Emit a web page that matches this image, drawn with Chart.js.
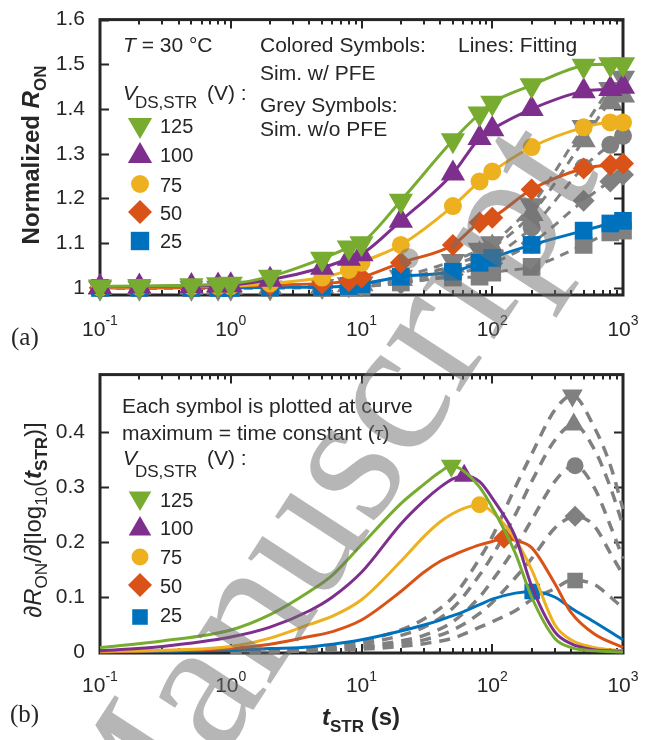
<!DOCTYPE html>
<html>
<head>
<meta charset="utf-8">
<script src="https://cdn.jsdelivr.net/npm/chart.js@4.4.0/dist/chart.umd.min.js"></script>
<style>
  html, body { margin: 0; padding: 0; background: #fff; }
  #wrap { position: relative; width: 658px; height: 740px; overflow: hidden; background: #fff; }
  #cTop { position: absolute; left: 0; top: 0; }
  #cBot { position: absolute; left: 0; top: 355px; }
  #mark { position: absolute; left: 0; top: 0; pointer-events: none; }
</style>
</head>
<body>
<div id="wrap">
  <canvas id="cTop" width="658" height="355"></canvas>
  <canvas id="cBot" width="658" height="385"></canvas>
  <canvas id="mark" width="658" height="740"></canvas>
</div>
<script>
// ---- data (a): normalized R_ON vs stress time ----
const tStress = [0.1, 0.2, 0.5, 0.8, 1, 2, 5, 8, 10, 20, 50, 80, 100, 200, 500, 800, 1000];
// colored symbols: sim. with PFE
const ron125 = [1.003, 1.004, 1.006, 1.008, 1.009, 1.025, 1.065, 1.09, 1.1, 1.195, 1.33, 1.39, 1.414, 1.453, 1.497, 1.5, 1.5];
const ron100 = [1.002, 1.003, 1.004, 1.005, 1.006, 1.018, 1.045, 1.065, 1.075, 1.15, 1.256, 1.335, 1.355, 1.4, 1.44, 1.445, 1.45];
const ron75  = [1.001, 1.002, 1.003, 1.004, 1.004, 1.01, 1.023, 1.04, 1.056, 1.096, 1.183, 1.238, 1.26, 1.315, 1.359, 1.37, 1.37];
const ron50  = [1.0, 1.0, 1.001, 1.002, 1.003, 1.006, 1.01, 1.015, 1.023, 1.056, 1.096, 1.146, 1.157, 1.22, 1.267, 1.275, 1.278];
const ron25  = [1.0, 1.0, 1.0, 1.0, 1.0, 1.001, 1.002, 1.004, 1.008, 1.025, 1.036, 1.056, 1.067, 1.096, 1.128, 1.144, 1.15];
// grey symbols: sim. without PFE
const ronGrey125 = [1, 1, 1, 1, 1, 1.001, 1.004, 1.008, 1.01, 1.025, 1.06, 1.085, 1.1, 1.185, 1.36, 1.445, 1.47];
const ronGrey100 = [1, 1, 1, 1, 1, 1.001, 1.003, 1.006, 1.008, 1.02, 1.05, 1.075, 1.09, 1.165, 1.33, 1.415, 1.43];
const ronGrey75  = [1, 1, 1, 1, 1, 1, 1.002, 1.004, 1.006, 1.015, 1.04, 1.06, 1.07, 1.135, 1.27, 1.32, 1.34];
const ronGrey50  = [1, 1, 1, 1, 1, 1, 1.001, 1.003, 1.004, 1.01, 1.03, 1.045, 1.055, 1.1, 1.195, 1.238, 1.253];
const ronGrey25  = [1, 1, 1, 1, 1, 1, 1, 1.001, 1.002, 1.012, 1.023, 1.025, 1.034, 1.047, 1.096, 1.124, 1.128];
const yTicksTop = [1, 1.1, 1.2, 1.3, 1.4, 1.5, 1.6];

// ---- data (b): dR_ON / d[log10(t)] ----
const tDeriv = [0.1, 0.3, 1, 2, 4, 6, 10, 20, 30, 40, 50, 60, 80, 100, 150, 200, 300, 400, 600, 1000];
const der125 = [0.008, 0.02, 0.04, 0.068, 0.11, 0.14, 0.195, 0.27, 0.305, 0.328, 0.339, 0.33, 0.3, 0.263, 0.18, 0.1, 0.025, 0.008, 0.002, 0];
const der100 = [0.002, 0.01, 0.027, 0.045, 0.075, 0.1, 0.145, 0.233, 0.275, 0.3, 0.315, 0.321, 0.31, 0.28, 0.21, 0.12, 0.037, 0.015, 0.004, 0.001];
const der75  = [0.001, 0.003, 0.01, 0.025, 0.05, 0.065, 0.095, 0.165, 0.21, 0.237, 0.252, 0.261, 0.268, 0.255, 0.205, 0.15, 0.05, 0.022, 0.008, 0.002];
const der50  = [0, 0.002, 0.006, 0.014, 0.028, 0.037, 0.058, 0.11, 0.145, 0.165, 0.176, 0.184, 0.195, 0.201, 0.203, 0.19, 0.125, 0.072, 0.033, 0.008];
const der25  = [0, 0.001, 0.003, 0.006, 0.009, 0.014, 0.022, 0.038, 0.049, 0.058, 0.066, 0.073, 0.086, 0.096, 0.107, 0.11, 0.1, 0.08, 0.055, 0.022];
const tauPFE  = [48.6, 61, 80, 123, 202];
const peakPFE = [0.339, 0.321, 0.268, 0.207, 0.11];

const tDerivGrey = [1, 3, 10, 20, 30, 50, 80, 100, 150, 200, 300, 400, 600, 800, 1000];
const derGrey125 = [0, 0.002, 0.02, 0.04, 0.06, 0.1, 0.17, 0.21, 0.3, 0.36, 0.44, 0.467, 0.41, 0.34, 0.26];
const derGrey100 = [0, 0.002, 0.015, 0.03, 0.045, 0.08, 0.14, 0.175, 0.25, 0.31, 0.385, 0.412, 0.37, 0.3, 0.23];
const derGrey75  = [0, 0.001, 0.01, 0.02, 0.03, 0.055, 0.1, 0.13, 0.19, 0.24, 0.31, 0.338, 0.3, 0.23, 0.17];
const derGrey50  = [0, 0.001, 0.008, 0.015, 0.022, 0.04, 0.07, 0.09, 0.135, 0.17, 0.225, 0.246, 0.23, 0.18, 0.14];
const derGrey25  = [0, 0.001, 0.005, 0.01, 0.015, 0.025, 0.045, 0.055, 0.075, 0.095, 0.115, 0.13, 0.123, 0.1, 0.08];
const tauNoPFE  = [410, 420, 430, 430, 430];
const peakNoPFE = [0.467, 0.414, 0.339, 0.247, 0.13];
const yTicksBot = [0, 0.1, 0.2, 0.3, 0.4];

const xTickExps = [-1, 0, 1, 2, 3];
const vLabels = ['125', '100', '75', '50', '25'];

// ---- styles ----
const FONT = '"Liberation Sans", Arial, Helvetica, sans-serif';
const SERIF = '"Liberation Serif", "Times New Roman", serif';
const INK = '#262626';
const GREY = '#808080';
const colors = ['#77AC30', '#7E2F8E', '#EDB120', '#D95319', '#0072BD'];
const shapes = [
  { style: 'triangle', rot: 180 },
  { style: 'triangle', rot: 0 },
  { style: 'circle', rot: 0 },
  { style: 'rectRot', rot: 0 },
  { style: 'rect', rot: 0 }
];
const topR = [14, 14, 9, 11, 12.5];
const botR = [12, 12, 8.5, 10.5, 11];

const ronPFE = [ron125, ron100, ron75, ron50, ron25];
const ronNoPFE = [ronGrey125, ronGrey100, ronGrey75, ronGrey50, ronGrey25];
const derPFE = [der125, der100, der75, der50, der25];
const derNoPFE = [derGrey125, derGrey100, derGrey75, derGrey50, derGrey25];

// text with sub/superscripts
function rich(ctx, parts, x, y, align) {
  let w = 0;
  parts.forEach(p => { ctx.font = p.font; p.w = ctx.measureText(p.text).width; w += p.w; });
  let cx = align === 'center' ? x - w / 2 : x;
  ctx.textAlign = 'left';
  ctx.textBaseline = 'alphabetic';
  parts.forEach(p => { ctx.font = p.font; ctx.fillText(p.text, cx, y + (p.dy || 0)); cx += p.w; });
}
const f = (size, style) => `${style || ''} ${size}px ${FONT}`;

function drawLogLabels(chart, baseline) {
  const { ctx, scales: { x } } = chart;
  ctx.fillStyle = INK;
  xTickExps.forEach(e => {
    const px = x.getPixelForValue(Math.pow(10, e));
    rich(ctx, [{ text: '10', font: f(21) }, { text: String(e), font: f(14), dy: -11 }], px, baseline, 'center');
  });
}

function drawLegend(ctx, mx, my, radii, tx, ty) {
  shapes.forEach((s, i) => {
    ctx.fillStyle = colors[i];
    ctx.strokeStyle = colors[i];
    Chart.helpers.drawPoint(ctx, { pointStyle: s.style, rotation: s.rot, radius: radii[i], borderWidth: 0 }, mx, my[i]);
    ctx.fillStyle = INK;
    ctx.font = f(20);
    ctx.textAlign = 'left';
    ctx.fillText(vLabels[i], tx, ty[i]);
  });
}

// MATLAB-like box with inward ticks
const boxAxes = {
  id: 'boxAxes',
  beforeDatasetsDraw(chart) {
    const { ctx, chartArea: a, scales: { x, y } } = chart;
    ctx.save();
    ctx.strokeStyle = INK;
    ctx.lineWidth = 2;
    ctx.beginPath();
    y.ticks.forEach(t => {
      const py = Math.round(y.getPixelForValue(t.value)) + 0.5;
      ctx.moveTo(a.left, py); ctx.lineTo(a.left + 9, py);
      ctx.moveTo(a.right, py); ctx.lineTo(a.right - 9, py);
    });
    for (let e = -1; e <= 3; e++) {
      for (let k = 1; k <= (e === 3 ? 1 : 9); k++) {
        const px = Math.round(x.getPixelForValue(k * Math.pow(10, e)));
        const len = k === 1 ? 9 : 5;
        ctx.moveTo(px, a.bottom); ctx.lineTo(px, a.bottom - len);
        ctx.moveTo(px, a.top); ctx.lineTo(px, a.top + len);
      }
    }
    ctx.stroke();
    ctx.lineWidth = 3;
    ctx.strokeRect(a.left, a.top, a.width, a.height);
    ctx.restore();
  }
};

const decorTop = {
  id: 'decorTop',
  afterDraw(chart) {
    const ctx = chart.ctx;
    ctx.save();
    drawLogLabels(chart, 336);
    ctx.fillStyle = INK;
    rich(ctx, [{ text: 'T', font: f(21, 'italic') }, { text: ' = 30 \u00B0C', font: f(21) }], 123, 52);
    rich(ctx, [{ text: 'Colored Symbols:', font: f(21) }], 260, 52);
    rich(ctx, [{ text: 'Sim. w/ PFE', font: f(21) }], 260, 80);
    rich(ctx, [{ text: 'Grey Symbols:', font: f(21) }], 260, 112);
    rich(ctx, [{ text: 'Sim. w/o PFE', font: f(21) }], 260, 136);
    rich(ctx, [{ text: 'Lines: Fitting', font: f(21) }], 458, 52);
    rich(ctx, [{ text: 'V', font: f(21, 'italic') }], 123, 100);
    rich(ctx, [{ text: 'DS,STR', font: f(17) }], 135, 108);
    rich(ctx, [{ text: '(V) :', font: f(21) }], 207, 100);
    drawLegend(ctx, 140, [125, 156, 184, 212, 241], [14, 14, 9, 12, 13], 160, [133, 162, 192, 220, 248]);
    // y title
    ctx.fillStyle = INK;
    ctx.translate(39, 155);
    ctx.rotate(-Math.PI / 2);
    rich(ctx, [
      { text: 'Normalized ', font: f(24, 'bold') },
      { text: 'R', font: f(24, 'bold italic') },
      { text: 'ON', font: f(17, 'bold'), dy: 7 }
    ], 0, 0, 'center');
    ctx.setTransform(1, 0, 0, 1, 0, 0);
    ctx.font = `25px ${SERIF}`;
    ctx.fillText('(a)', 11, 345);
    ctx.restore();
  }
};

const decorBot = {
  id: 'decorBot',
  afterDraw(chart) {
    const ctx = chart.ctx;
    const oy = 355;
    ctx.save();
    drawLogLabels(chart, 692 - oy);
    ctx.fillStyle = INK;
    rich(ctx, [{ text: 'Each symbol is plotted at curve', font: f(21) }], 122, 413 - oy);
    rich(ctx, [
      { text: 'maximum = time constant (', font: f(21) },
      { text: '\u03C4', font: `italic 22px ${SERIF}` },
      { text: ')', font: f(21) }
    ], 122, 440 - oy);
    rich(ctx, [{ text: 'V', font: f(21, 'italic') }], 123, 465 - oy);
    rich(ctx, [{ text: 'DS,STR', font: f(17) }], 135, 477 - oy);
    rich(ctx, [{ text: '(V) :', font: f(21) }], 207, 465 - oy);
    drawLegend(ctx, 140, [498, 529, 557, 585, 617].map(v => v - oy), [13, 13, 8.5, 12, 11], 160,
      [507, 535, 564, 593, 622].map(v => v - oy));
    // x title
    ctx.fillStyle = INK;
    rich(ctx, [
      { text: 't', font: f(24, 'bold italic') },
      { text: 'STR', font: f(17, 'bold'), dy: 7 },
      { text: ' (s)', font: f(24, 'bold') }
    ], 361, 725 - oy, 'center');
    // y title
    ctx.translate(41, 520 - oy);
    ctx.rotate(-Math.PI / 2);
    rich(ctx, [
      { text: '\u2202', font: f(24) },
      { text: 'R', font: f(24, 'italic') },
      { text: 'ON', font: f(17), dy: 6 },
      { text: '/\u2202[log', font: f(24) },
      { text: '10', font: f(17), dy: 6 },
      { text: '(', font: f(24) },
      { text: 't', font: f(24, 'bold italic') },
      { text: 'STR', font: f(17, 'bold'), dy: 6 },
      { text: ')]', font: f(24) }
    ], 0, 0, 'center');
    ctx.setTransform(1, 0, 0, 1, 0, 0);
    ctx.font = `25px ${SERIF}`;
    ctx.fillText('(b)', 10, 722 - oy);
    ctx.restore();
  }
};

function xScale(h) {
  return {
    type: 'logarithmic', min: 0.1, max: 1000,
    grid: { display: false }, border: { display: false },
    ticks: { display: false },
    afterFit: s => { s.height = h; }
  };
}
function yScale(min, max, list, size) {
  return {
    type: 'linear', min, max,
    grid: { display: false }, border: { display: false },
    ticks: {
      color: INK, padding: 7, autoSkip: false,
      font: { family: FONT, size },
      callback: v => (v === 0 || v === 1) ? String(v) : v.toFixed(1)
    },
    afterBuildTicks: s => { s.ticks = list.map(v => ({ value: v })); },
    afterFit: s => { s.width = 100; }
  };
}

// ---- chart (a) ----
const topSets = [];
ronPFE.forEach((vals, i) => topSets.push({
  data: tStress.map((t, k) => ({ x: t, y: vals[k] })),
  borderColor: colors[i], backgroundColor: colors[i],
  borderWidth: 3, pointStyle: shapes[i].style, pointRotation: shapes[i].rot,
  pointRadius: topR[i], pointBorderWidth: 0, pointBackgroundColor: colors[i],
  cubicInterpolationMode: 'monotone', fill: false, clip: false, order: i
}));
ronNoPFE.forEach((vals, i) => topSets.push({
  data: tStress.map((t, k) => ({ x: t, y: vals[k] })),
  borderColor: GREY, backgroundColor: GREY,
  borderWidth: 3, borderDash: [9, 7], pointStyle: shapes[i].style, pointRotation: shapes[i].rot,
  pointRadius: topR[i], pointBorderWidth: 0, pointBackgroundColor: GREY,
  cubicInterpolationMode: 'monotone', fill: false, clip: false, order: 10 + i
}));

new Chart(document.getElementById('cTop'), {
  type: 'line',
  data: { datasets: topSets },
  options: {
    responsive: false, animation: false, events: [],
    layout: { padding: { top: 15, right: 35, left: 0, bottom: 0 } },
    plugins: { legend: { display: false }, tooltip: { enabled: false } },
    scales: { x: xScale(60), y: yScale(0.984, 1.6, yTicksTop, 21) }
  },
  plugins: [boxAxes, decorTop]
});

// ---- chart (b) ----
function derivData(ts, vals, tau, peak) {
  const pts = ts.map((t, k) => ({ x: t, y: vals[k] }))
    .filter(p => Math.abs(Math.log10(p.x / tau)) > 0.03);
  pts.push({ x: tau, y: peak, peak: true });
  return pts.sort((a, b) => a.x - b.x);
}

const botSets = [];
derPFE.forEach((vals, i) => botSets.push({
  data: derivData(tDeriv, vals, tauPFE[i], peakPFE[i]),
  borderColor: colors[i], backgroundColor: colors[i],
  borderWidth: 3, pointStyle: shapes[i].style, pointRotation: shapes[i].rot,
  pointRadius: c => (c.raw && c.raw.peak) ? botR[i] : 0,
  pointBorderWidth: 0, pointBackgroundColor: colors[i],
  cubicInterpolationMode: 'monotone', fill: false, clip: false, order: i
}));
derNoPFE.forEach((vals, i) => botSets.push({
  data: derivData(tDerivGrey, vals, tauNoPFE[i], peakNoPFE[i]),
  borderColor: GREY, backgroundColor: GREY,
  borderWidth: 3.5, borderDash: [11, 8], pointStyle: shapes[i].style, pointRotation: shapes[i].rot,
  pointRadius: c => (c.raw && c.raw.peak) ? botR[i] : 0,
  pointBorderWidth: 0, pointBackgroundColor: GREY,
  cubicInterpolationMode: 'monotone', fill: false, clip: false, order: 10 + i
}));

new Chart(document.getElementById('cBot'), {
  type: 'line',
  data: { datasets: botSets },
  options: {
    responsive: false, animation: false, events: [],
    layout: { padding: { top: 12, right: 35, left: 0, bottom: 0 } },
    plugins: { legend: { display: false }, tooltip: { enabled: false } },
    scales: { x: xScale(87), y: yScale(-0.002, 0.505, yTicksBot, 21) }
  },
  plugins: [boxAxes, decorBot]
});

// ---- watermark overlay ----
const wm = document.getElementById('mark').getContext('2d');
wm.save();
wm.translate(130, 900);
wm.rotate(-57 * Math.PI / 180);
wm.font = `190px ${SERIF}`;
wm.fillStyle = 'rgba(110,110,110,0.5)';
wm.fillText('Manuscript', 0, 0);
wm.restore();
</script>
</body>
</html>
